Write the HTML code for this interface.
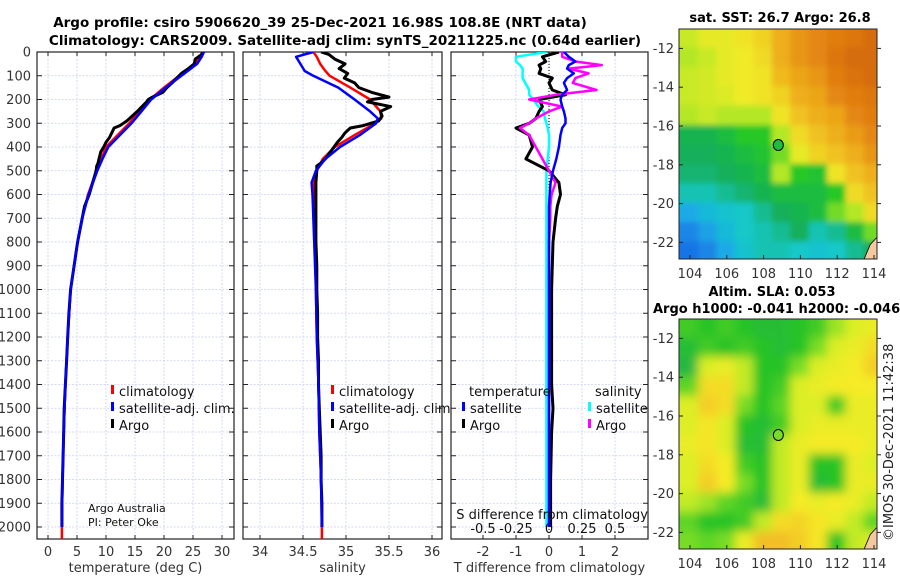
<!DOCTYPE html>
<html><head><meta charset="utf-8">
<style>
body{margin:0;background:#fff;}
svg{display:block;font-family:"DejaVu Sans","Liberation Sans",sans-serif;}
</style></head>
<body>
<svg id="fig" width="900" height="580" viewBox="0 0 900 580" xmlns="http://www.w3.org/2000/svg">
<defs>
<clipPath id="c1"><rect x="37" y="52" width="197" height="487"/></clipPath>
<clipPath id="c2"><rect x="243" y="52" width="199" height="487"/></clipPath>
<clipPath id="c3"><rect x="451" y="52" width="197" height="487"/></clipPath>
<clipPath id="cm1"><rect x="679" y="29" width="198" height="230"/></clipPath>
<clipPath id="cm2"><rect x="679" y="319" width="198" height="230"/></clipPath>
<filter id="blur" x="-0.1" y="-0.1" width="1.2" height="1.2"><feGaussianBlur stdDeviation="5"/></filter>
<filter id="blur2" x="-0.1" y="-0.1" width="1.2" height="1.2"><feGaussianBlur stdDeviation="3"/></filter>
</defs>
<text x="320" y="27" text-anchor="middle" font-weight="bold" font-size="13.5">Argo profile: csiro 5906620_39 25-Dec-2021 16.98S 108.8E (NRT data)</text>
<text x="345" y="45" text-anchor="middle" font-weight="bold" font-size="13.5">Climatology: CARS2009. Satellite-adj clim: synTS_20211225.nc (0.64d earlier)</text>
<g id="g1"></g>
<g id="g2"></g>
<g id="g3"></g>
<g id="m1"></g>
<g id="m2"></g>
<text x="780" y="22" text-anchor="middle" font-weight="bold" font-size="13">sat. SST: 26.7 Argo: 26.8</text>
<text x="772" y="296" text-anchor="middle" font-weight="bold" font-size="13">Altim. SLA: 0.053</text>
<text x="653" y="313" font-weight="bold" font-size="13">Argo h1000: -0.041 h2000: -0.046</text>
<text transform="translate(893,541) rotate(-90)" font-size="13" fill="#222">©IMOS 30-Dec-2021 11:42:38</text>
</svg>
<script>
// ---------- profile data ----------
const tDepth=[0,20,50,100,150,200,250,300,350,400,450,500,600,700,800,900,1000,1200,1400,1600,1800,2000,2050];
const tClim=[26.6,26.2,25.4,22.6,20.0,17.6,15.8,14.0,12.0,10.0,9.2,8.4,6.9,5.9,5.1,4.5,3.9,3.4,3.0,2.7,2.5,2.4,2.4];
const tSat=[26.9,26.5,25.7,23.0,20.3,17.8,16.1,14.4,12.4,10.4,9.4,8.5,7.0,5.9,5.1,4.5,3.9,3.4,3.0,2.7,2.5,2.4,null];
const argoDepth=[0,10,30,50,70,90,110,130,150,170,190,200,210,230,250,270,290,310,320,340,360,380,400,420,450,470,480,500,550,600,650,700,800,900,1000,1100,1200,1300,1400,1500,1600,1700,1800,1900,2000];
const tArgo=[26.8,26.5,25.4,25.2,24.2,23.0,22.2,21.4,20.5,19.8,18.0,17.3,17.0,16.2,15.4,14.5,13.6,12.4,11.4,11.0,10.6,10.0,9.6,9.1,8.8,8.6,8.4,8.3,7.7,7.1,6.3,5.9,5.1,4.5,3.9,3.6,3.4,3.2,3.0,2.8,2.7,2.6,2.5,2.4,2.4];
const sArgo=[34.71,34.80,34.87,34.99,34.92,35.02,34.98,35.10,35.15,35.30,35.50,35.30,35.25,35.52,35.40,35.42,35.38,35.20,35.05,34.99,34.95,34.90,34.86,34.82,34.76,34.70,34.66,34.66,34.65,34.65,34.65,34.65,34.65,34.66,34.66,34.67,34.67,34.68,34.68,34.69,34.70,34.71,34.71,34.72,34.72];
const sDepth=[0,20,50,80,100,150,200,250,280,300,350,400,450,500,550,600,800,1000,1200,1400,1600,1800,2000,2050];
const sClim=[34.62,34.66,34.70,34.76,34.81,35.05,35.28,35.40,35.41,35.34,35.10,34.87,34.73,34.66,34.63,34.63,34.64,34.65,34.66,34.68,34.69,34.71,34.72,34.72];
const sSat=[34.62,34.42,34.47,34.52,34.62,34.91,35.10,35.28,35.37,35.35,35.16,34.93,34.76,34.65,34.60,34.61,34.63,34.65,34.66,34.68,34.69,34.71,34.72,null];
// difference panel
const dDepth=[0,20,40,55,70,90,110,130,160,180,200,230,250,280,300,320,350,400,450,500,550,600,650,700,800,1000,1200,1400,1500,1600,1800,2000];
const dTSat=[0.45,0.6,0.8,0.6,0.55,0.75,0.55,0.45,0.55,0.4,0.35,0.4,0.45,0.5,0.5,0.4,0.35,0.3,0.22,0.12,0.05,0.02,0,0,0,0,0,0,0,0,0,0];
const dTArgo=[0.3,-0.2,-0.1,-0.3,-0.25,-0.3,0.1,0.0,0.1,0.5,-0.3,-0.2,-0.3,-0.4,-0.6,-1.0,-0.6,-0.5,-0.7,0.0,0.3,0.35,0.25,0.2,0.12,0.08,0.08,0.08,0.12,0.08,0.05,0.05];
const dSSat=[-0.02,-0.25,-0.25,-0.22,-0.2,-0.2,-0.2,-0.18,-0.15,-0.15,-0.12,-0.08,-0.04,-0.03,-0.02,-0.01,0,0,-0.01,-0.02,-0.02,-0.02,-0.02,-0.02,-0.02,-0.02,-0.02,-0.02,-0.02,-0.02,-0.02,-0.02];
const dSArgo=[0.1,0.1,0.2,0.4,0.15,0.3,0.2,0.18,0.36,0.05,-0.15,0.1,0.0,-0.1,-0.15,-0.22,-0.15,-0.1,-0.05,0.0,0.05,0.02,0.01,0.01,0.0,0.0,0.0,0.0,0.0,0.0,0.0,0.0];
// ticks
const depthTicks=[0,100,200,300,400,500,600,700,800,900,1000,1100,1200,1300,1400,1500,1600,1700,1800,1900,2000];
const tTicks=[0,5,10,15,20,25,30];
const sTicks=[34,34.5,35,35.5,36];
const sTickLabels=["34","34.5","35","35.5","36"];
const dTTicks=[-2,-1,0,1,2];
const dSTicks=[-0.5,-0.25,0,0.25,0.5];
const dSTickLabels=["-0.5","-0.25","0","0.25","0.5"];
// ---------- map data (colormap value 0..1) ----------
const lonTicks=[104,106,108,110,112,114];
const latTicks=[-12,-14,-16,-18,-20,-22];
const mapLon=[103.5,104.5,105.5,106.5,107.5,108.5,109.5,110.5,111.5,112.5,113.5];
const mapLat=[-11,-12,-13,-14,-15,-16,-17,-18,-19,-20,-21,-22];
const sstGrid=[
[.62,.65,.65,.68,.72,.80,.85,.88,.90,.92,.95],
[.60,.62,.65,.66,.70,.80,.85,.88,.92,.95,.95],
[.62,.63,.65,.66,.68,.78,.82,.85,.90,.93,.95],
[.62,.63,.64,.66,.68,.72,.80,.82,.88,.90,.92],
[.60,.62,.60,.60,.60,.68,.76,.80,.82,.88,.90],
[.42,.42,.45,.50,.50,.60,.70,.76,.80,.84,.88],
[.40,.40,.42,.45,.48,.55,.65,.72,.76,.80,.85],
[.38,.38,.40,.42,.45,.60,.50,.48,.68,.76,.80],
[.32,.32,.35,.38,.42,.45,.45,.45,.50,.70,.76],
[.20,.25,.28,.30,.35,.40,.42,.45,.55,.60,.70],
[.12,.18,.25,.30,.32,.35,.40,.32,.35,.45,.55],
[.08,.12,.20,.28,.32,.32,.30,.28,.30,.35,.40]];
const slaGrid=[
[.35,.30,.35,.30,.25,.25,.30,.35,.50,.60,.65],
[.25,.35,.30,.35,.30,.25,.30,.45,.60,.65,.75],
[.20,.60,.65,.55,.30,.30,.45,.60,.65,.70,.80],
[.40,.75,.75,.55,.30,.35,.60,.65,.70,.70,.70],
[.60,.80,.75,.45,.30,.40,.60,.60,.35,.65,.65],
[.60,.72,.60,.30,.25,.35,.60,.65,.65,.65,.65],
[.65,.72,.60,.25,.25,.55,.65,.70,.70,.70,.65],
[.60,.75,.70,.35,.30,.55,.65,.30,.30,.65,.60],
[.60,.80,.70,.45,.30,.55,.65,.25,.30,.65,.65],
[.55,.50,.40,.35,.25,.55,.70,.65,.70,.65,.55],
[.40,.30,.30,.35,.55,.75,.78,.72,.65,.55,.40],
[.45,.40,.45,.65,.85,.85,.80,.72,.30,.55,.60]];
const argoLon=[108.8];
const argoLat=[-16.98];

const NS="http://www.w3.org/2000/svg";
function mk(tag,attrs,parent){const e=document.createElementNS(NS,tag);for(const k in attrs)e.setAttribute(k,attrs[k]);parent.appendChild(e);return e;}
const yTop=52,yPerM=0.2375;
function yD(d){return yTop+d*yPerM;}

function panel(g,x0,x1,xs,xTicks,xLabels,xlabel,showY,clip,name){
  mk('rect',{x:x0,y:52,width:x1-x0,height:487,fill:'#fff'},g);
  depthTicks.forEach(d=>{const l=mk('line',{x1:x0,x2:x1,y1:yD(d),y2:yD(d),stroke:'#c8d0ee','stroke-width':0.8,'stroke-dasharray':'2,1.5'},g);
    });
  xTicks.forEach(v=>{const l=mk('line',{x1:xs(v),x2:xs(v),y1:52,y2:539,stroke:'#c8d0ee','stroke-width':0.8,'stroke-dasharray':'2,1.5'},g);
    });
  xTicks.forEach((v,i)=>{
    mk('line',{x1:xs(v),x2:xs(v),y1:52,y2:56,stroke:'#222'},g);mk('line',{x1:xs(v),x2:xs(v),y1:539,y2:535,stroke:'#222'},g);
    if(xLabels){const t=mk('text',{x:xs(v),y:556,'text-anchor':'middle','font-size':13,fill:'#333'},g);t.textContent=xLabels[i];
    }
  });
  depthTicks.forEach(d=>{
    mk('line',{x1:x0,x2:x0+5,y1:yD(d),y2:yD(d),stroke:'#222'},g);mk('line',{x1:x1,x2:x1-5,y1:yD(d),y2:yD(d),stroke:'#222'},g);
    if(showY){const t=mk('text',{x:31,y:yD(d)+4.5,'text-anchor':'end','font-size':13,fill:'#333'},g);t.textContent=d;
    }
  });
  const bx=mk('rect',{x:x0,y:52,width:x1-x0,height:487,fill:'none',stroke:'#222','stroke-width':1.2},g);
  
  const xl=mk('text',{x:(x0+x1)/2,y:572,'text-anchor':'middle','font-size':13,fill:'#333'},g);xl.textContent=xlabel;
  
  return mk('g',{'clip-path':'url(#'+clip+')'},g);
}
function line(g,xs,vals,depths,color,w,name){
  let d='',pen=false;
  vals.forEach((v,i)=>{if(v===null){pen=false;return;}d+=(pen?'L':'M')+xs(v).toFixed(1)+','+yD(depths[i]).toFixed(1);pen=true;});
  const p=mk('path',{d:d,fill:'none',stroke:color,'stroke-width':w,'stroke-linejoin':'round'},g);
  
}
function legend(g,x,y,color,label,name){
  mk('rect',{x:x,y:y-7,width:3,height:9,fill:color},g);
  const t=mk('text',{x:x+8,y:y+4,'font-size':13,fill:'#111'},g);t.textContent=label;
  
}
// Panel 1
const xsT=v=>48+v*5.8;
const g1=document.getElementById('g1');
const c1=panel(g1,37,234,xsT,tTicks,tTicks.map(String),'temperature (deg C)',true,'c1','temperature');
line(c1,xsT,tClim,tDepth,'#f00',2.5,'temperature-climatology-line');
line(c1,xsT,tArgo,argoDepth,'#000',3,'temperature-argo-line');
line(c1,xsT,tSat,tDepth,'#00f',2.5,'temperature-satellite-line');
legend(g1,111,392,'#f00','climatology','legend-climatology');
legend(g1,111,409,'#00f','satellite-adj. clim.','legend-satellite-adj');
legend(g1,111,426,'#000','Argo','legend-argo');
let t=mk('text',{x:88,y:512,'font-size':11,fill:'#111'},g1);t.textContent='Argo Australia';

t=mk('text',{x:88,y:526,'font-size':11,fill:'#111'},g1);t.textContent='PI: Peter Oke';

// Panel 2
const xsS=v=>260+(v-34)*86;
const g2=document.getElementById('g2');
const c2=panel(g2,243,442,xsS,sTicks,sTickLabels,'salinity',false,'c2','salinity');
line(c2,xsS,sClim,sDepth,'#f00',2.5,'salinity-climatology-line');
line(c2,xsS,sArgo,argoDepth,'#000',3,'salinity-argo-line');
line(c2,xsS,sSat,sDepth,'#00f',2.5,'salinity-satellite-line');
legend(g2,331,392,'#f00','climatology','legend-climatology-s');
legend(g2,331,409,'#00f','satellite-adj. clim.','legend-satellite-adj-s');
legend(g2,331,426,'#000','Argo','legend-argo-s');
// Panel 3
const xsDT=v=>549+v*33;
const xsDS=v=>549+v*132;
const g3=document.getElementById('g3');
const c3=panel(g3,451,648,xsDT,dTTicks,dTTicks.map(String),'T difference from climatology',false,'c3','difference');
mk('line',{x1:xsDT(0),x2:xsDT(0),y1:52,y2:539,stroke:'#000','stroke-width':1,'stroke-dasharray':'1,2'},c3);
line(c3,xsDS,dSSat,dDepth,'#0ff',2.5,'salinity-satellite-diff-line');
line(c3,xsDT,dTArgo,dDepth,'#000',3,'temperature-argo-diff-line');
line(c3,xsDS,dSArgo,dDepth,'#f0f',2.5,'salinity-argo-diff-line');
line(c3,xsDT,dTSat,dDepth,'#00f',2.5,'temperature-satellite-diff-line');
t=mk('text',{x:469,y:396,'font-size':13,fill:'#111'},g3);t.textContent='temperature';

t=mk('text',{x:595,y:396,'font-size':13,fill:'#111'},g3);t.textContent='salinity';

legend(g3,462,409,'#00f','satellite','legend-temp-satellite');
legend(g3,462,426,'#000','Argo','legend-temp-argo');
legend(g3,588,409,'#0ff','satellite','legend-sal-satellite');
legend(g3,588,426,'#f0f','Argo','legend-sal-argo');
t=mk('text',{x:648,y:519,'text-anchor':'end','font-size':13,fill:'#111'},g3);t.textContent='S difference from climatology';

dSTicks.forEach((v,i)=>{const tt=mk('text',{x:xsDS(v),y:533,'text-anchor':'middle','font-size':13,fill:'#111'},g3);tt.textContent=dSTickLabels[i];
});

// ---------- maps ----------
function interp(st,v){
  for(let i=1;i<st.length;i++){if(v<=st[i][0]){const a=st[i-1],b=st[i],f=(v-a[0])/(b[0]-a[0]);
    return 'rgb('+a[1].map((c,k)=>Math.round(c+(b[1][k]-c)*f)).join(',')+')';}}
  const l=st[st.length-1][1];return 'rgb('+l.join(',')+')';
}
const sstStops=[[0,[20,80,230]],[0.2,[30,170,230]],[0.3,[20,200,200]],[0.4,[20,175,90]],[0.5,[40,200,40]],[0.58,[160,230,40]],[0.66,[240,235,40]],[0.78,[240,185,30]],[0.9,[225,125,15]],[1,[200,90,10]]];
const slaStops=[[0,[40,160,120]],[0.3,[40,195,40]],[0.45,[120,220,40]],[0.58,[215,238,40]],[0.7,[245,235,40]],[0.85,[243,190,40]],[1,[235,150,40]]];
function jet(v){return interp(sstStops,v);}
function slaCol(v){return interp(slaStops,v);}
function mapPanel(gid,yTopM,grid,colf,clip,filt,name){
  const g=document.getElementById(gid);
  const lx=v=>690+(v-104)*18.4;
  const ly=v=>yTopM+(-11-v)*19.4;
  const cg=mk('g',{'clip-path':'url(#'+clip+')'},g);
  const fg=mk('g',{filter:'url(#'+filt+')'},cg);
  const nr=grid.length,nc=grid[0].length;
  grid.forEach((row,r)=>row.forEach((v,c)=>{
    let x=lx(mapLon[c])-1,y=ly(mapLat[r])-1,w=18.4+2,h=19.4+2;
    if(c===0){x-=20;w+=20;} if(c===nc-1){w+=20;}
    if(r===0){y-=20;h+=20;} if(r===nr-1){h+=20;}
    const rc=mk('rect',{x:x,y:y,width:w,height:h,fill:colf(v)},fg);
    
  }));
  const cs=mk('path',{d:'M'+lx(114.2)+','+ly(-21.7)+' L'+lx(113.8)+','+ly(-22.1)+' L'+lx(113.4)+','+ly(-23)+' L'+lx(114.2)+','+ly(-23)+'Z',fill:'#f6c8a0',stroke:'#000','stroke-width':0.8},cg);
  
  argoLon.forEach((lo,i)=>{const ci=mk('ellipse',{cx:lx(lo),cy:ly(argoLat[i]),rx:5,ry:5.5,fill:colf(0.45),stroke:'#000','stroke-width':1},cg);
    });
  mk('rect',{x:679,y:yTopM,width:198,height:230,fill:'none',stroke:'#222','stroke-width':1},g);
  lonTicks.forEach(v=>{mk('line',{x1:lx(v),x2:lx(v),y1:yTopM+230,y2:yTopM+226,stroke:'#222'},g);
    const tt=mk('text',{x:lx(v),y:yTopM+249,'text-anchor':'middle','font-size':13,fill:'#333'},g);tt.textContent=v;
    });
  latTicks.forEach(v=>{mk('line',{x1:679,x2:683,y1:ly(v),y2:ly(v),stroke:'#222'},g);mk('line',{x1:877,x2:881,y1:ly(v),y2:ly(v),stroke:'#222'},g);
    const tt=mk('text',{x:674,y:ly(v)+4.5,'text-anchor':'end','font-size':13,fill:'#333'},g);tt.textContent=v;
    });
}
mapPanel('m1',29,sstGrid,jet,'cm1','blur2','sst');
mapPanel('m2',319,slaGrid,slaCol,'cm2','blur','sla');
</script>
</body></html>
